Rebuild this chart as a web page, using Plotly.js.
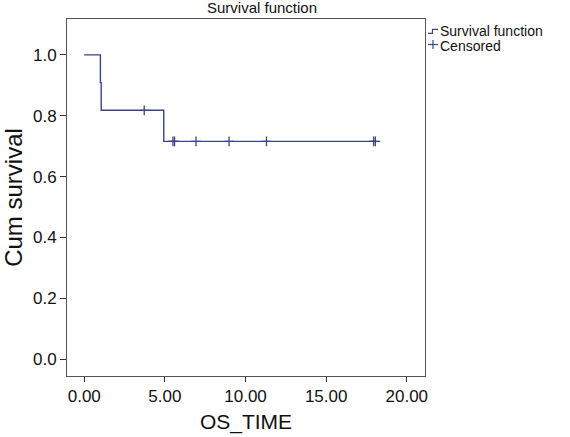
<!DOCTYPE html>
<html>
<head>
<meta charset="utf-8">
<script src="https://cdn.plot.ly/plotly-3.0.1.min.js"></script>
<style>html,body{margin:0;padding:0;background:#fff;}</style>
</head>
<body>
<div id="chart" style="width:570px;height:437px;"></div>
<script>
// Kaplan-Meier step data
const eventTimes = [0, 1.0, 1.05, 4.93];
const survival = [1.0, 0.909, 0.818, 0.716];
const lastTime = 18.05;
// Censored observations
const censorTimes = [3.72, 5.5, 5.6, 6.93, 8.98, 11.3, 17.95, 18.05];
const censorSurv = [0.818, 0.716, 0.716, 0.716, 0.716, 0.716, 0.716, 0.716];
const xTicks = [0, 5, 10, 15, 20];
const yTicks = [0, 0.2, 0.4, 0.6, 0.8, 1.0];

const lineColor = '#3c4387';
const W = 570, H = 437;
const M = {l: 67, r: 145, t: 19, b: 61};
const px = x => (x - M.l) / (W - M.l - M.r);
const py = y => 1 - (y - M.t) / (H - M.t - M.b);

const stepX = eventTimes.concat([lastTime]);
const stepY = survival.concat([survival[survival.length - 1]]);

const traces = [
  {x: stepX, y: stepY, mode: 'lines', line: {shape: 'hv', color: lineColor, width: 1.4},
   name: 'Survival function', showlegend: false, hoverinfo: 'skip'},
  {x: censorTimes, y: censorSurv, mode: 'markers',
   marker: {symbol: 'cross-thin-open', size: 7, color: lineColor, line: {color: lineColor, width: 1.3}},
   name: 'Censored', showlegend: false, hoverinfo: 'skip'}
];

const font = 'Liberation Sans, Arial, Helvetica, sans-serif';
const layout = {
  width: W, height: H,
  margin: M,
  paper_bgcolor: '#fff', plot_bgcolor: '#fff',
  font: {family: font, color: '#111'},
  title: {text: 'Survival function', font: {size: 15, color: '#111'},
          xref: 'paper', x: px(262), xanchor: 'center',
          yref: 'container', y: 1 - 8 / H, yanchor: 'middle'},
  xaxis: {range: [-1.07, 21.13], tickvals: xTicks, tickformat: '.2f',
          ticks: 'outside', ticklen: 5, tickcolor: '#333', tickwidth: 1,
          showline: true, mirror: true, linecolor: '#555', linewidth: 1,
          showgrid: false, zeroline: false, tickfont: {size: 17},
          title: {text: 'OS_TIME', font: {size: 21}, standoff: 8}},
  yaxis: {range: [-0.055, 1.118], tickvals: yTicks, tickformat: '.1f',
          ticks: 'outside', ticklen: 6, tickcolor: '#333', tickwidth: 1,
          showline: true, mirror: true, linecolor: '#555', linewidth: 1,
          showgrid: false, zeroline: false, tickfont: {size: 17},
          title: {text: 'Cum survival', font: {size: 24}, standoff: 6}},
  shapes: [
    {type: 'path', xref: 'paper', yref: 'paper',
     path: `M ${px(428)} ${py(33.3)} L ${px(432.5)} ${py(33.3)} L ${px(432.5)} ${py(29.3)} L ${px(438)} ${py(29.3)}`,
     line: {color: lineColor, width: 1.2}},
    {type: 'line', xref: 'paper', yref: 'paper', x0: px(428), x1: px(438), y0: py(44.5), y1: py(44.5),
     line: {color: lineColor, width: 1.2}},
    {type: 'line', xref: 'paper', yref: 'paper', x0: px(433), x1: px(433), y0: py(40), y1: py(49),
     line: {color: lineColor, width: 1.2}}
  ],
  annotations: [
    {text: 'Survival function', xref: 'paper', yref: 'paper', x: px(437.5), y: py(31),
     xanchor: 'left', yanchor: 'middle', showarrow: false, font: {size: 14, color: '#111'}},
    {text: 'Censored', xref: 'paper', yref: 'paper', x: px(437.5), y: py(46),
     xanchor: 'left', yanchor: 'middle', showarrow: false, font: {size: 14, color: '#111'}}
  ]
};

Plotly.newPlot('chart', traces, layout, {displayModeBar: false, staticPlot: true});
</script>
</body>
</html>
